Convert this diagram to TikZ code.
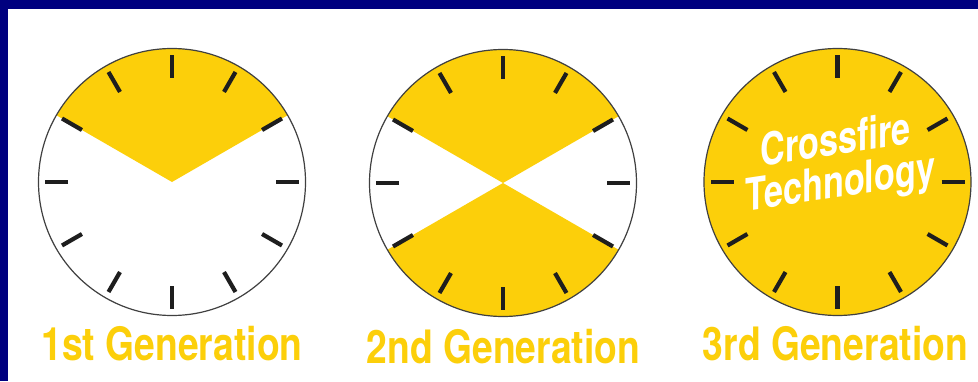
\documentclass[tikz,border=0pt]{standalone}
\usepackage{fontspec}
\usetikzlibrary{calc}
\newfontfamily\condfont[FakeStretch=0.81]{TeX Gyre Heros}
\newfontfamily\serrefont[FakeStretch=0.76]{TeX Gyre Heros}
\definecolor{jaune}{HTML}{FCCF0A}
\definecolor{marine}{HTML}{00007F}
\definecolor{trait}{HTML}{1E1E1E}
\tikzset{
  graduation/.style={line width=4.2pt, draw=trait},
  cadran/.style={line width=1.2pt, draw=trait!85},
  legende/.style={text=jaune, anchor=base, inner sep=0pt,
    font=\condfont\bfseries\fontsize{46}{46}\selectfont},
  slogan/.style={text=white, inner sep=0pt, yslant=0.15,
    font=\serrefont\bfseries\fontsize{45}{45}\selectfont},
}
\begin{document}
\begin{tikzpicture}[x=1pt,y=1pt]

  % Cadre bleu en haut et a gauche, fond blanc
  \fill[marine] (0,0) rectangle (978,381);
  \fill[white] (8,0) rectangle (978,372);
  \useasboundingbox (0,0) rectangle (978,381);

  % Rayon du cadran, rayons interieur et exterieur des graduations
  \def\r{133.5}
  \def\ri{104}
  \def\re{127}

  % Centres des trois cadrans
  \coordinate (C1) at (172,199);
  \coordinate (C2) at (503,198);
  \coordinate (C3) at (837.5,199);

  % Secteurs jaunes : un seul pour la 1re generation, deux pour la 2e
  \fill[jaune] (C1) -- ($(C1)+(30:\r)$) arc[start angle=30, end angle=150, radius=\r] -- cycle;
  \fill[jaune] (C2) -- ($(C2)+(30:\r)$) arc[start angle=30, end angle=150, radius=\r] -- cycle;
  \fill[jaune] (C2) -- ($(C2)+(210:\r)$) arc[start angle=210, end angle=330, radius=\r] -- cycle;
  % 3e generation : disque entierement jaune
  \fill[jaune] (C3) circle[radius=\r];

  % Contour et 12 graduations de chaque cadran
  \foreach \c in {C1,C2,C3} {
    \draw[cadran] (\c) circle[radius=\r];
    \foreach \a in {0,30,...,330}
      \draw[graduation] ($(\c)+(\a:\ri)$) -- ($(\c)+(\a:\re)$);
  }

  % Texte incline sur le troisieme cadran, une ligne par noeud
  \node[slogan, anchor=base] (cross) at ($(C3)+(-2,27)$) {Crossfire};
  \node[slogan, anchor=base] (techno) at ($(C3)+(3,-15)$) {Technology};

  % Legendes sous les cadrans
  \node[legende] (gen1) at (172,21) {1st Generation};
  \node[legende] (gen2) at (503.5,18) {2nd Generation};
  \node[legende] (gen3) at (835.5,21) {3rd Generation};

\end{tikzpicture}
\end{document}
